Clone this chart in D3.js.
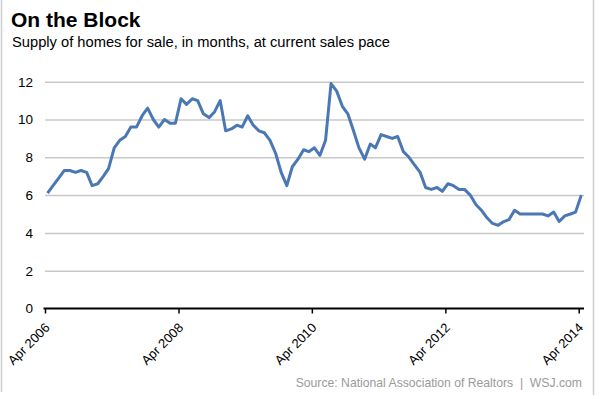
<!DOCTYPE html>
<html>
<head>
<meta charset="utf-8">
<script src="https://cdn.jsdelivr.net/npm/d3@7"></script>
<style>
  body { margin: 0; background: #fff; }
  svg { display: block; font-family: "Liberation Sans", Arial, sans-serif; }
</style>
</head>
<body>
<div id="chart"></div>
<script>
// monthly supply of homes, Apr 2006 .. Apr 2014
const startMonth = new Date(2006, 3, 1);
const supply = [
  6.1, 6.5, 6.9, 7.3, 7.3, 7.2, 7.3, 7.2, 6.5, 6.6, 7.0, 7.4,
  8.5, 8.9, 9.1, 9.6, 9.6, 10.2, 10.6, 10.0, 9.6, 10.0, 9.8, 9.8,
  11.1, 10.8, 11.1, 11.0, 10.3, 10.1, 10.4, 11.0, 9.4, 9.5, 9.7, 9.6,
  10.2, 9.7, 9.4, 9.3, 8.9, 8.2, 7.2, 6.5, 7.5, 7.9, 8.4, 8.3,
  8.5, 8.1, 8.9, 11.9, 11.5, 10.7, 10.3, 9.4, 8.5, 7.9, 8.7, 8.5,
  9.2, 9.1, 9.0, 9.1, 8.3, 8.0, 7.6, 7.2, 6.4, 6.3, 6.4, 6.2,
  6.6, 6.5, 6.3, 6.3, 6.0, 5.5, 5.2, 4.8, 4.5, 4.4, 4.6, 4.7,
  5.2, 5.0, 5.0, 5.0, 5.0, 5.0, 4.9, 5.1, 4.6, 4.9, 5.0, 5.1,
  6.0
];
const yTicks = [0, 2, 4, 6, 8, 10, 12];
const xTicks = [new Date(2006, 3, 1), new Date(2008, 3, 1), new Date(2010, 3, 1),
                new Date(2012, 3, 1), new Date(2014, 3, 1)];

const width = 600, height = 399;
const svg = d3.select('#chart').append('svg')
  .attr('width', width)
  .attr('height', height);

// frame
svg.append('line').attr('x1', 1.5).attr('x2', 1.5).attr('y1', 0).attr('y2', 392)
  .attr('stroke', '#cfcfcf').attr('stroke-width', 1.5);
svg.append('line').attr('x1', 593.5).attr('x2', 593.5).attr('y1', 0).attr('y2', 395)
  .attr('stroke', '#cfcfcf').attr('stroke-width', 1.5);

svg.append('text')
  .attr('x', 11).attr('y', 27)
  .style('font-size', '21px').style('font-weight', 'bold').style('fill', '#000')
  .text('On the Block');
svg.append('text')
  .attr('x', 12).attr('y', 47)
  .style('font-size', '14.7px').style('fill', '#000')
  .text('Supply of homes for sale, in months, at current sales pace');

const x = d3.scaleTime()
  .domain([xTicks[0], xTicks[xTicks.length - 1]])
  .range([45, 578.7]);
const y = d3.scaleLinear().domain([0, 12]).range([308.5, 81.7]);

// grid + y labels
const yAxis = svg.append('g')
  .attr('transform', 'translate(45,0)')
  .call(d3.axisLeft(y).tickValues(yTicks).tickSize(-539).tickPadding(12));
yAxis.select('.domain').remove();
yAxis.selectAll('line').attr('stroke', '#c8c8c8').attr('stroke-width', 1.5);
yAxis.selectAll('.tick').filter(d => d === 0).select('line').remove();
yAxis.selectAll('text').style('font-size', '13.5px').style('fill', '#000');

// x axis
const xAxis = svg.append('g')
  .attr('transform', 'translate(0,' + y(0) + ')')
  .call(d3.axisBottom(x).tickValues(xTicks).tickSize(5).tickSizeOuter(0)
    .tickFormat(d3.timeFormat('%b %Y')));
xAxis.select('.domain').attr('d', 'M43.5,0H584').attr('stroke', '#000').attr('stroke-width', 2);
xAxis.selectAll('line').attr('stroke', '#000').attr('stroke-width', 1.5);
xAxis.selectAll('text')
  .attr('x', 0).attr('y', 0).attr('dy', 0)
  .attr('transform', 'translate(5,20) rotate(-45)')
  .style('text-anchor', 'end')
  .style('font-size', '13px').style('fill', '#000');

// line, points sit mid-month
const line = d3.line()
  .x((d, i) => x(new Date(startMonth.getFullYear(), startMonth.getMonth() + i, 15)))
  .y(d => y(d));
svg.append('path')
  .datum(supply)
  .attr('d', line)
  .attr('fill', 'none')
  .attr('stroke', '#4a78b4')
  .attr('stroke-width', 3)
  .attr('stroke-linejoin', 'round');

svg.append('text')
  .attr('x', 582).attr('y', 386.5)
  .style('text-anchor', 'end')
  .style('font-size', '12.2px').style('fill', '#9a9a9a')
  .style('white-space', 'pre')
  .text('Source: National Association of Realtors  |  WSJ.com');
</script>
</body>
</html>
